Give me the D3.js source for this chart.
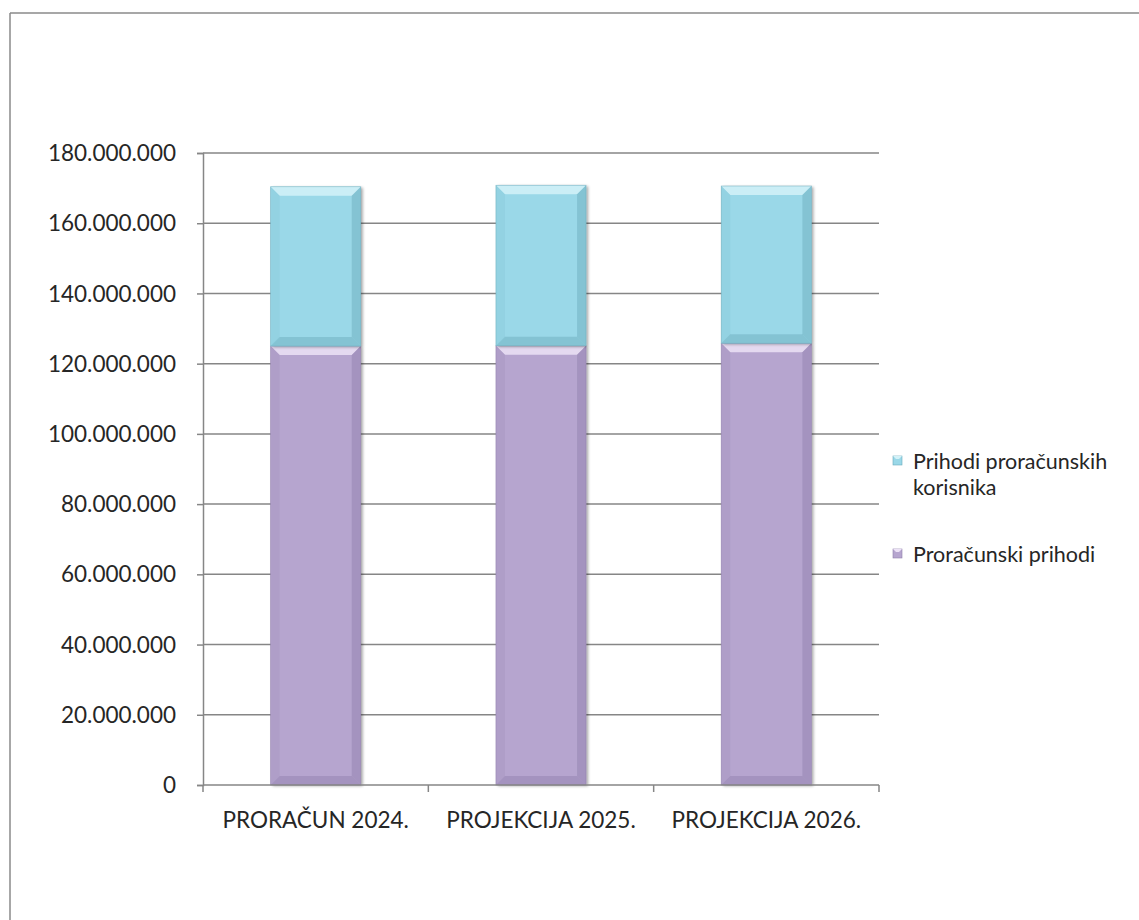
<!DOCTYPE html>
<html><head><meta charset="utf-8">
<script src="https://cdn.jsdelivr.net/npm/d3@7"></script>
<style>body{margin:0;background:#fff;} svg{display:block;}</style>
</head><body>
<svg id="chart" width="1139" height="920"></svg>
<script>
const categories = ["PRORAČUN 2024.", "PROJEKCIJA 2025.", "PROJEKCIJA 2026."];
const seriesNames = ["Proračunski prihodi", "Prihodi proračunskih korisnika"];
const proracunskiPrihodi = [125.0e6, 125.1e6, 125.8e6];
const prihodiKorisnika = [45.4e6, 45.7e6, 44.8e6];
const yTicks = [0, 20e6, 40e6, 60e6, 80e6, 100e6, 120e6, 140e6, 160e6, 180e6];
const colors = {
  "Proračunski prihodi": {base:"#b6a5cf", light:"#ece2f6", dark:"#8f7fab", side:"#a898c2"},
  "Prihodi proračunskih korisnika": {base:"#9ad8e8", light:"#d3f2f8", dark:"#6aaabb", side:"#8ccbdc"}
};

const svg = d3.select("#chart");
const font = "Lato, 'Open Sans', sans-serif";
const textColor = "#262626";
const gridColor = "#868686";

// frame (top & left only visible)
svg.append("line").attr("x1",10).attr("y1",13).attr("x2",1139).attr("y2",13).attr("stroke","#8a8a8a").attr("stroke-width",1.5);
svg.append("line").attr("x1",10).attr("y1",13).attr("x2",10).attr("y2",920).attr("stroke","#8a8a8a").attr("stroke-width",1.5);

const y = d3.scaleLinear().domain([0,180e6]).range([785,153]);
const x = d3.scaleBand().domain(categories).range([203,879]).paddingInner(0.6).paddingOuter(0.3);

// gridlines
svg.append("g").selectAll("line").data(yTicks.filter(d=>d>0)).join("line")
  .attr("x1",203).attr("x2",879).attr("y1",d=>y(d)).attr("y2",d=>y(d))
  .attr("stroke",gridColor).attr("stroke-width",1.5);

// y axis
const fmt = v => d3.format(",")(v).replace(/,/g,".");
const yAxis = svg.append("g").attr("transform","translate(203,0)")
  .call(d3.axisLeft(y).tickValues(yTicks).tickFormat(fmt).tickSize(6).tickPadding(21));
yAxis.select(".domain").attr("stroke",gridColor).attr("stroke-width",1.5);
yAxis.selectAll(".tick line").attr("stroke",gridColor).attr("stroke-width",1.5);
yAxis.selectAll("text").attr("font-family",font).attr("font-size",22.5).attr("fill",textColor).attr("dy","0.34em");

// stacked data
const table = categories.map((c,i)=>({cat:c, "Proračunski prihodi":proracunskiPrihodi[i], "Prihodi proračunskih korisnika":prihodiKorisnika[i]}));
const stack = d3.stack().keys(seriesNames)(table);

const defs = svg.append("defs");
const f = defs.append("filter").attr("id","shadow").attr("x","-20%").attr("y","-20%").attr("width","140%").attr("height","140%");
f.append("feGaussianBlur").attr("in","SourceAlpha").attr("stdDeviation",1.5);
f.append("feOffset").attr("dx",2).attr("dy",1).attr("result","ob");
f.append("feComponentTransfer").append("feFuncA").attr("type","linear").attr("slope",0.35);
const fm = f.append("feMerge"); fm.append("feMergeNode"); fm.append("feMergeNode").attr("in","SourceGraphic");

function bevelBar(g, x0, y0, w, h, c, b){
  const x1 = x0+w, y1 = y0+h;
  const grp = g.append("g").attr("filter","url(#shadow)");
  grp.append("rect").attr("x",x0).attr("y",y0).attr("width",w).attr("height",h).attr("fill",c.base);
  const poly = (pts, fill, op) => g.append("polygon").attr("points",pts.map(p=>p.join(",")).join(" ")).attr("fill",fill).attr("opacity",op);
  poly([[x0,y0],[x1,y0],[x1-b,y0+b],[x0+b,y0+b]], c.light, 0.85);
  poly([[x0,y0],[x0+b,y0+b],[x0+b,y1-b],[x0,y1]], c.side, 0.5);
  poly([[x1,y0],[x1,y1],[x1-b,y1-b],[x1-b,y0+b]], c.dark, 0.45);
  poly([[x0,y1],[x0+b,y1-b],[x1-b,y1-b],[x1,y1]], c.dark, 0.45);
  g.append("rect").attr("x",x0).attr("y",y0).attr("width",w).attr("height",h).attr("fill","none").attr("stroke",c.dark).attr("stroke-width",0.8).attr("opacity",0.6);
}

const barsG = svg.append("g");
stack.forEach(layer=>{
  layer.forEach(d=>{
    const x0 = x(d.data.cat), w = x.bandwidth();
    const yt = y(d[1]), yb = y(d[0]);
    bevelBar(barsG, x0, yt, w, yb-yt, colors[layer.key], 9);
  });
});

// x axis
const xAxisG = svg.append("g").attr("transform","translate(0,785)");
xAxisG.append("line").attr("x1",203).attr("x2",879).attr("stroke",gridColor).attr("stroke-width",1.5);
const bounds = categories.map(c=>x(c)-x.step()*x.paddingOuter()).concat([879]);
xAxisG.selectAll("line.tk").data(bounds).join("line").attr("class","tk")
  .attr("x1",d=>d).attr("x2",d=>d).attr("y1",0).attr("y2",7).attr("stroke",gridColor).attr("stroke-width",1.5);
xAxisG.selectAll("text").data(categories).join("text")
  .attr("x",d=>x(d)+x.bandwidth()/2).attr("y",43)
  .attr("text-anchor","middle").attr("font-family",font).attr("font-size",22.5).attr("fill",textColor).text(d=>d);

// legend
const legendItems = [
  {key:"Prihodi proračunskih korisnika", lines:["Prihodi proračunskih","korisnika"], y:469},
  {key:"Proračunski prihodi", lines:["Proračunski prihodi"], y:562}
];
const lg = svg.append("g");
legendItems.forEach(it=>{
  const c = colors[it.key];
  const s = 9, sx = 893, sy = it.y-13;
  lg.append("rect").attr("x",sx).attr("y",sy).attr("width",s).attr("height",s).attr("fill",c.base).attr("stroke",c.dark).attr("stroke-width",0.6);
  lg.append("polygon").attr("points",`${sx},${sy} ${sx+s},${sy} ${sx+s-3},${sy+3} ${sx+3},${sy+3}`).attr("fill",c.light);
  it.lines.forEach((ln,i)=>lg.append("text").attr("font-family",font).attr("font-size",21.5).attr("fill",textColor)
    .attr("x",913).attr("y",it.y+i*26).text(ln));
});
</script>
</body></html>
